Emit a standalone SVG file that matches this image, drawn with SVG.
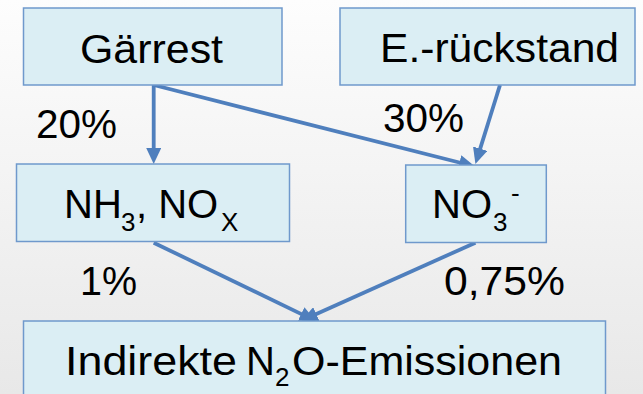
<svg xmlns="http://www.w3.org/2000/svg" width="643" height="394" viewBox="0 0 643 394">
<defs>
<linearGradient id="bg" x1="0" y1="0" x2="0" y2="1">
<stop offset="0" stop-color="#fdfdfd"/>
<stop offset="1" stop-color="#e8e8e8"/>
</linearGradient>
<marker id="ah" markerUnits="userSpaceOnUse" markerWidth="16" markerHeight="15" refX="6" refY="7.5" orient="auto">
<path d="M0,0 L16,7.5 L0,15 z" fill="#4f7fbd"/>
</marker>
</defs>
<style>
.box{fill:#dbeef4;stroke:#6f99cc;stroke-width:1.5}
.t{font-family:"Liberation Sans",Arial,sans-serif;font-size:40px;fill:#000}
.s{font-size:26px}
.c{stroke:#4f7fbd;stroke-width:3.8;fill:none;marker-end:url(#ah)}
</style>
<rect width="643" height="394" fill="url(#bg)"/>
<g id="connectors">
<line class="c" x1="153.7" y1="85" x2="153.7" y2="154"/>
<line class="c" x1="153.7" y1="85" x2="465.3" y2="164"/>
<line class="c" x1="500" y1="85" x2="478.4" y2="154.4"/>
<line class="c" x1="153.7" y1="242.7" x2="306.6" y2="316.6"/>
<line class="c" x1="475.4" y1="242.7" x2="310.8" y2="316.5"/>
</g>
<g id="gaerrest">
<rect class="box" x="23.5" y="8" width="258.5" height="77"/>
<text class="t" x="80" y="62.5" textLength="143" lengthAdjust="spacingAndGlyphs">Gärrest</text>
</g>
<g id="rueckstand">
<rect class="box" x="340" y="8" width="295" height="77"/>
<text class="t" x="380" y="62" textLength="239" lengthAdjust="spacingAndGlyphs">E.-rückstand</text>
</g>
<g id="nh3">
<rect class="box" x="16.5" y="164" width="273" height="77.5"/>
<text class="t" y="218"><tspan x="64">NH</tspan><tspan class="s" x="121" y="231">3</tspan><tspan x="136" y="218">, NO</tspan><tspan class="s" x="221" y="231">X</tspan></text>
</g>
<g id="no3">
<rect class="box" x="405.7" y="165" width="140.6" height="77.5"/>
<text class="t" y="218"><tspan x="432">NO</tspan><tspan class="s" x="493" y="231">3</tspan><tspan class="s" x="511" y="202">-</tspan></text>
</g>
<g id="emissionen">
<rect class="box" x="23.5" y="321" width="582" height="80"/>
<text class="t" x="65" y="375" textLength="172" lengthAdjust="spacingAndGlyphs">Indirekte</text>
<text class="t" y="375"><tspan x="246">N</tspan><tspan class="s" x="275" y="386">2</tspan><tspan x="292" y="375" textLength="270" lengthAdjust="spacingAndGlyphs">O-Emissionen</tspan></text>
</g>
<g id="labels">
<text class="t" x="36" y="138.3" textLength="81" lengthAdjust="spacingAndGlyphs">20%</text>
<text class="t" x="383" y="131.5" textLength="81" lengthAdjust="spacingAndGlyphs">30%</text>
<text class="t" x="80" y="294.5" textLength="57" lengthAdjust="spacingAndGlyphs">1%</text>
<text class="t" x="444" y="294.5" textLength="121" lengthAdjust="spacingAndGlyphs">0,75%</text>
</g>
</svg>
